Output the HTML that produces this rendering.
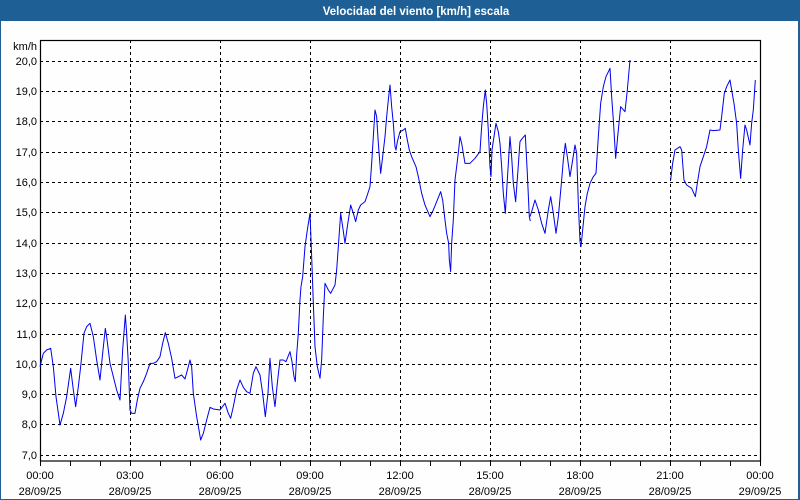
<!DOCTYPE html>
<html><head><meta charset="utf-8"><style>
html,body{margin:0;padding:0;background:#fff;}
svg{display:block;}
text{font-family:"Liberation Sans",sans-serif;font-size:11px;fill:#000;}
</style></head><body>
<svg width="800" height="500" viewBox="0 0 800 500" xmlns="http://www.w3.org/2000/svg">
<rect x="0" y="0" width="800" height="500" fill="#fdfefd"/>
<rect x="0" y="0" width="800" height="21" fill="#1e6096"/>
<rect x="0" y="0" width="1" height="500" fill="#1e6096"/>
<rect x="798" y="0" width="2" height="500" fill="#1e6096"/>
<rect x="0" y="499" width="800" height="1" fill="#1e6096"/>
<text x="416" y="15" text-anchor="middle" style="fill:#fff;font-weight:bold;font-size:11.5px">Velocidad del viento [km/h] escala</text>
<g stroke="#000" stroke-width="1" stroke-dasharray="3,3" fill="none">
<path d="M130.5 40V461M220.5 40V461M310.5 40V461M400.5 40V461M490.5 40V461M580.5 40V461M670.5 40V461"/>
<path d="M40 61.5H760M40 91.5H760M40 121.5H760M40 152.5H760M40 182.5H760M40 212.5H760M40 243.5H760M40 273.5H760M40 303.5H760M40 334.5H760M40 364.5H760M40 394.5H760M40 424.5H760M40 455.5H760"/>
</g>
<rect x="40.5" y="40.5" width="720" height="420.5" fill="none" stroke="#000" stroke-width="1.2"/>
<g stroke="#000" stroke-width="1">
<path d="M40.5 461V466M70.5 461V466M100.5 461V466M130.5 461V466M160.5 461V466M190.5 461V466M220.5 461V466M250.5 461V466M280.5 461V466M310.5 461V466M340.5 461V466M370.5 461V466M400.5 461V466M430.5 461V466M460.5 461V466M490.5 461V466M520.5 461V466M550.5 461V466M580.5 461V466M610.5 461V466M640.5 461V466M670.5 461V466M700.5 461V466M730.5 461V466M760.5 461V466"/>
</g>
<g text-anchor="end">
<text x="37" y="50">km/h</text>
<text x="37" y="65">20,0</text><text x="37" y="95">19,0</text><text x="37" y="125">18,0</text>
<text x="37" y="156">17,0</text><text x="37" y="186">16,0</text><text x="37" y="216">15,0</text>
<text x="37" y="247">14,0</text><text x="37" y="277">13,0</text><text x="37" y="307">12,0</text>
<text x="37" y="338">11,0</text><text x="37" y="368">10,0</text><text x="37" y="398">9,0</text>
<text x="37" y="428">8,0</text><text x="37" y="459">7,0</text>
</g>
<g text-anchor="middle">
<text x="40" y="479">00:00</text><text x="40" y="495">28/09/25</text>
<text x="130" y="479">03:00</text><text x="130" y="495">28/09/25</text>
<text x="220" y="479">06:00</text><text x="220" y="495">28/09/25</text>
<text x="310" y="479">09:00</text><text x="310" y="495">28/09/25</text>
<text x="400" y="479">12:00</text><text x="400" y="495">28/09/25</text>
<text x="490" y="479">15:00</text><text x="490" y="495">28/09/25</text>
<text x="580" y="479">18:00</text><text x="580" y="495">28/09/25</text>
<text x="670" y="479">21:00</text><text x="670" y="495">28/09/25</text>
<text x="760" y="479">00:00</text><text x="760" y="495">29/09/25</text>
</g>
<g fill="none" stroke="#0000ee" stroke-width="1" stroke-linejoin="round">
<g transform="translate(40,300) scale(0.3333)">
<polyline vector-effect="non-scaling-stroke" points="0,200 10,160 20,150 32,145 40,200 48,290 60,375 70,340 80,290 92,205 100,270 107,320 115,260 122,200 132,100 140,80 150,70 160,110 170,180 180,240 188,160 196,85 200,110 210,190 220,230 230,270 240,300 248,150 256,45 260,100 265,190 270,330 275,340 285,340 292,300 300,265 310,245 320,220 330,190 340,190 350,185 360,170 368,130 376,98 385,130 395,175 405,235 415,230 425,225 435,237 445,200 450,180 455,200 460,280 470,350 477,390 482,420 490,400 500,360 510,322 520,327 540,330 555,310 565,340 572,355 580,320 590,270 600,240 610,262 620,275 630,280 640,220 648,200 660,225 668,280 676,350 684,280 690,175 697,260 705,320 712,250 720,180 730,180 738,185 750,155 756,185 762,230 766,245 770,165 775,100 780,0 783,-40"/>
</g>
<g transform="translate(290,70) scale(0.3333)">
<polyline vector-effect="non-scaling-stroke" points="33,650 38,620 45,530 52,480 60,430 65,560 70,700 75,830 82,890 90,925 95,870 100,740 105,640 115,660 122,670 135,645 140,600 145,530 152,430 158,470 165,520 172,470 182,405 190,430 197,455 205,420 212,405 225,395 232,375 240,350 245,280 250,200 255,120 260,140 265,220 272,310 278,260 285,200 290,140 295,90 300,45 305,110 310,160 315,230 318,240 322,215 330,185 340,180 346,175 350,200 358,240 365,260 378,290 385,320 395,370 405,405 420,440 430,420 440,395 452,365 458,390 465,450 470,490 476,520 478,570 482,605 485,520 490,450 495,330 500,290 506,240 510,200 515,220 520,250 525,280 540,280 555,265 570,245 575,170 580,110 586,60 590,100 595,180 600,290 603,320 606,240 612,200 618,160 625,185 630,220 635,290 640,370 646,430 652,330 660,200 665,260 670,340 677,395 684,300 690,215 697,205 706,195 712,310 718,440 721,453"/>
</g>
<g transform="translate(530,50) scale(0.3333)">
<polyline vector-effect="non-scaling-stroke" points="0,500 5,485 15,450 25,480 35,520 45,550 55,480 62,440 70,490 78,550 85,500 95,390 100,330 106,280 112,320 120,380 128,330 135,285 140,310 145,460 150,575 153,590 158,540 165,470 172,430 180,400 190,380 198,370 205,260 212,160 220,110 228,80 240,55 245,140 250,210 257,325 264,250 272,170 285,185 292,120 300,30"/>
<polyline vector-effect="non-scaling-stroke" points="422,390 428,340 435,300 450,290 455,300 462,390 470,405 485,415 496,440 502,400 510,350 520,320 530,290 540,240 550,242 570,240 575,200 583,130 590,110 600,90 605,120 612,160 620,220 625,300 632,385 638,300 645,225 650,240 660,285 665,220 670,180 676,90"/>
</g>
</g>
</svg>
</body></html>
